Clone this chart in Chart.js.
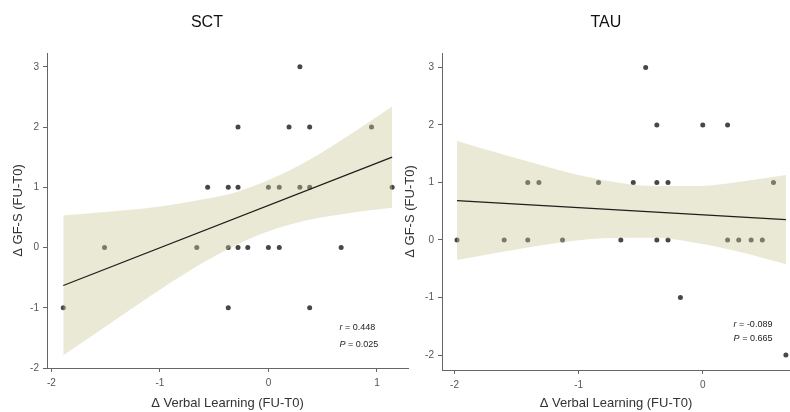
<!DOCTYPE html>
<html>
<head>
<meta charset="utf-8">
<script src="https://cdn.jsdelivr.net/npm/chart.js@4/dist/chart.umd.min.js"></script>
<style>
  html, body { margin: 0; padding: 0; background: #ffffff; overflow: hidden; }
  #wrap { position: relative; width: 830px; height: 412px; }
  .box { position: absolute; top: 0; height: 412px; }
</style>
</head>
<body>
<div id="wrap">
  <div class="box" style="left:0px;width:414px"><canvas id="sct" width="414" height="412" style="width:414px;height:412px"></canvas></div>
  <div class="box" style="left:398px;width:416px"><canvas id="tau" width="416" height="412" style="width:416px;height:412px"></canvas></div>
</div>
<script>
// ---------- data ----------
const sctXTicks = [-2, -1, 0, 1];
const tauXTicks = [-2, -1, 0];
const yTicks = [-2, -1, 0, 1, 2, 3];

const sctX = [-1.89, -1.51, -0.66, -0.56, -0.37, -0.28, -0.28, -0.37, -0.28, -0.19, -0.37, 0.00, 0.10, 0.00, 0.10, 0.19, 0.29, 0.29, 0.38, 0.38, 0.38, 0.67, 0.95, 1.14];
const sctY = [-1, 0, 0, 1, 1, 1, 2, 0, 0, 0, -1, 0, 0, 1, 1, 2, 3, 1, 1, 2, -1, 0, 2, 1];
const sctFitX = [-1.89, 1.14];
const sctFitY = [-0.63, 1.50];
const sctBandX = [-1.89, -1.5, -1.0, -0.6, -0.3, 0.0, 0.3, 0.6, 0.9, 1.14];
const sctBandUpper = [0.53, 0.59, 0.68, 0.80, 0.92, 1.12, 1.38, 1.70, 2.05, 2.34];
const sctBandLower = [-1.79, -1.31, -0.70, -0.25, 0.04, 0.27, 0.43, 0.53, 0.61, 0.66];
const sctStats = ["0.448", "0.025"];

const tauX = [-1.98, -1.60, -1.41, -1.41, -1.32, -1.13, -0.84, -0.66, -0.56, -0.46, -0.37, -0.37, -0.37, -0.28, -0.28, -0.18, 0.00, 0.20, 0.20, 0.29, 0.39, 0.48, 0.57, 0.67];
const tauY = [0, 0, 0, 1, 1, 0, 1, 0, 1, 3, 2, 1, 0, 1, 0, -1, 2, 2, 0, 0, 0, 0, 1, -2];
const tauFitX = [-1.98, 0.67];
const tauFitY = [0.685, 0.354];
const tauBandX = [-1.98, -1.6, -1.2, -0.8, -0.4, 0.0, 0.3, 0.67];
const tauBandUpper = [1.72, 1.48, 1.24, 1.04, 0.94, 0.94, 1.01, 1.13];
const tauBandLower = [-0.35, -0.20, -0.06, 0.03, 0.04, -0.07, -0.21, -0.42];
const tauStats = ["-0.089", "0.665"];

// ---------- helpers ----------
const FONT = "'Liberation Sans', Arial, sans-serif";
const pts = (xs, ys) => xs.map((x, i) => ({ x: x, y: ys[i] }));

const statsPlugin = {
  id: 'stats',
  afterDraw(chart, args, opts) {
    const ctx = chart.ctx;
    const a = chart.chartArea;
    ctx.save();
    ctx.fillStyle = '#222';
    ctx.textBaseline = 'middle';
    ctx.textAlign = 'left';
    const x0 = a.left + opts.fx * (a.right - a.left);
    const y0 = a.top + opts.fy * (a.bottom - a.top);
    const rows = [['r', ' = ' + opts.vals[0]], ['P', ' = ' + opts.vals[1]]];
    rows.forEach((r, i) => {
      const y = y0 + i * opts.gap;
      ctx.font = 'italic 9px ' + FONT;
      ctx.fillText(r[0], x0, y);
      const w = ctx.measureText(r[0]).width;
      ctx.font = '9px ' + FONT;
      ctx.fillText(r[1], x0 + w, y);
    });
    // panel title
    ctx.fillStyle = '#111';
    ctx.font = '16px ' + FONT;
    ctx.textAlign = 'center';
    ctx.fillText(opts.title, a.left + opts.tx * (a.right - a.left), opts.ty);
    ctx.restore();
  }
};

function makeChart(id, cfg) {
  return new Chart(document.getElementById(id), {
    type: 'scatter',
    data: {
      datasets: [
        { // regression line (top)
          type: 'line', data: pts(cfg.fitX, cfg.fitY), order: 0,
          borderColor: '#1e1e1e', borderWidth: 1.3, pointRadius: 0, fill: false, tension: 0
        },
        { // CI upper
          type: 'line', data: pts(cfg.bandX, cfg.upper), order: 1,
          borderColor: 'rgba(0,0,0,0)', borderWidth: 0, pointRadius: 0,
          backgroundColor: 'rgba(200,200,150,0.4)', fill: '+1',
          cubicInterpolationMode: 'monotone'
        },
        { // CI lower
          type: 'line', data: pts(cfg.bandX, cfg.lower), order: 2,
          borderColor: 'rgba(0,0,0,0)', borderWidth: 0, pointRadius: 0, fill: false,
          cubicInterpolationMode: 'monotone'
        },
        { // points (bottom)
          data: pts(cfg.x, cfg.y), order: 3,
          pointRadius: 2.5, pointBackgroundColor: '#474747', pointBorderWidth: 0,
          borderColor: '#474747'
        }
      ]
    },
    options: {
      responsive: false,
      maintainAspectRatio: false,
      animation: false,
      events: [],
      layout: { padding: { left: 0, right: cfg.padRight, top: 53, bottom: 0 } },
      plugins: {
        legend: { display: false },
        tooltip: { enabled: false },
        title: { display: false },
        stats: cfg.stats
      },
      scales: {
        x: {
          type: 'linear', min: cfg.xMin, max: cfg.xMax,
          afterFit: s => { s.height = cfg.xAxisH; },
          afterBuildTicks: s => { s.ticks = cfg.xTicks.map(v => ({ value: v })); },
          border: { display: true, color: '#666', width: 1 },
          grid: { display: true, drawOnChartArea: false, drawTicks: true, tickLength: 4, color: '#666' },
          ticks: { color: '#555', font: { family: FONT, size: 10 }, padding: 5, maxRotation: 0 },
          title: { display: true, text: 'Δ Verbal Learning (FU-T0)', color: '#333',
                   font: { family: FONT, size: 13 }, padding: { top: 0, bottom: 1.2 } }
        },
        y: {
          type: 'linear', min: cfg.yMin, max: cfg.yMax,
          afterFit: s => { s.width = cfg.yAxisW; },
          afterBuildTicks: s => { s.ticks = yTicks.map(v => ({ value: v })); },
          border: { display: true, color: '#666', width: 1 },
          grid: { display: true, drawOnChartArea: false, drawTicks: true, tickLength: 4, color: '#666' },
          ticks: { color: '#555', font: { family: FONT, size: 10 }, padding: 4 },
          title: { display: true, text: 'Δ GF-S (FU-T0)', color: '#333',
                   font: { family: FONT, size: 13 }, padding: { top: cfg.yTitlePad, bottom: 0 } }
        }
      }
    },
    plugins: [statsPlugin]
  });
}

makeChart('sct', {
  x: sctX, y: sctY, fitX: sctFitX, fitY: sctFitY,
  bandX: sctBandX, upper: sctBandUpper, lower: sctBandLower, xTicks: sctXTicks,
  xMin: -2.04, xMax: 1.286, yMin: -2.0, yMax: 3.23,
  padRight: 6, xAxisH: 44, yAxisW: 47, yTitlePad: 11,
  stats: { title: 'SCT', tx: 0.443, ty: 23, vals: sctStats, fx: 0.81, fy: 0.872, gap: 16.5 }
});

makeChart('tau', {
  x: tauX, y: tauY, fitX: tauFitX, fitY: tauFitY,
  bandX: tauBandX, upper: tauBandUpper, lower: tauBandLower, xTicks: tauXTicks,
  xMin: -2.101, xMax: 0.703, yMin: -2.26, yMax: 3.25,
  padRight: 24, xAxisH: 42, yAxisW: 44, yTitlePad: 5,
  stats: { title: 'TAU', tx: 0.471, ty: 23, vals: tauStats, fx: 0.838, fy: 0.856, gap: 14.5 }
});
</script>
</body>
</html>
